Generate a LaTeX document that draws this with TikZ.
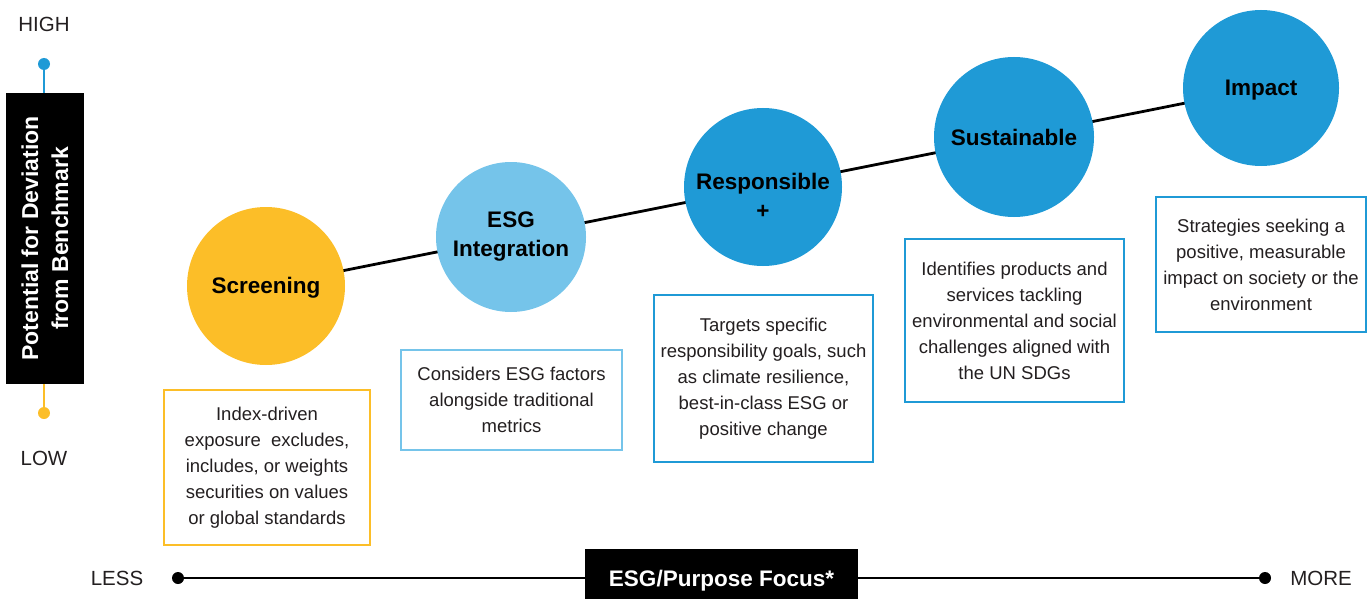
\documentclass[tikz,border=0pt]{standalone}
\usepackage{fontspec}
\setmainfont{Liberation Sans}
\usetikzlibrary{backgrounds}
\definecolor{esgyellow}{RGB}{252,190,40}
\definecolor{esglight}{RGB}{117,196,234}
\definecolor{esgblue}{RGB}{31,154,214}
\definecolor{inkgray}{RGB}{35,31,32}
\tikzset{
  stage/.style={circle, inner sep=0pt, align=center, text=black,
    font=\fontsize{22.5}{29}\selectfont\bfseries},
  desc/.style={draw, line width=1.6pt, fill=white, align=center, inner sep=0pt,
    text=inkgray, font=\fontsize{18.5}{26}\selectfont},
  axtext/.style={text=inkgray, font=\fontsize{20.5}{24}\selectfont},
  axdot/.style={circle, inner sep=0pt, minimum size=12pt},
  blackbox/.style={fill=black, text=white, inner sep=0pt, align=center,
    font=\fontsize{23}{30}\selectfont\bfseries}
}
\begin{document}
\begin{tikzpicture}[x=1pt,y=-1pt]
\useasboundingbox (0,0) rectangle (1370,599);
% stages
\node[stage, fill=esgyellow, minimum size=158pt] (scr) at (266,286) {};
\node[stage] (scrtxt) at (266,288) {Screening};
\node[stage, fill=esglight, minimum size=150pt] (esg) at (511,237) {ESG\\Integration};
\node[stage, fill=esgblue, minimum size=158pt] (resp) at (763,187) {};
\node[stage] (resptxt) at (763,196) {Responsible\\+};
\node[stage, fill=esgblue, minimum size=160pt] (sust) at (1014,137) {Sustainable};
\node[stage, fill=esgblue, minimum size=156pt] (imp) at (1261,88) {};
\node[stage] (imptxt) at (1261,90) {Impact};
\begin{scope}[on background layer]
  \draw[line width=2.8pt] (scr.center) -- (imp.center);
\end{scope}
% descriptions
\node[desc, draw=esgyellow, minimum width=206pt, minimum height=155pt] (scrd) at (267,467.5)
  {Index-driven\\exposure\ \ excludes,\\includes, or weights\\securities on values\\or global standards};
\node[desc, draw=esglight, minimum width=221pt, minimum height=100pt] (esgd) at (511.5,400)
  {Considers ESG factors\\alongside traditional\\metrics};
\node[desc, draw=esgblue, minimum width=219pt, minimum height=167pt] (respd) at (763.5,378.5)
  {Targets specific\\responsibility goals, such\\as climate resilience,\\best-in-class ESG or\\positive change};
\node[desc, draw=esgblue, minimum width=219pt, minimum height=163pt] (sustd) at (1014.5,320.5)
  {Identifies products and\\services tackling\\environmental and social\\challenges aligned with\\the UN SDGs};
\node[desc, draw=esgblue, minimum width=210pt, minimum height=135pt] (impd) at (1261,264.5)
  {Strategies seeking a\\positive, measurable\\impact on society or the\\environment};
% vertical axis
\node[axtext] (high) at (44,24) {HIGH};
\node[axtext] (low) at (44,458) {LOW};
\node[blackbox, rotate=90, minimum width=291pt, minimum height=78pt] (vbox) at (45,238.5)
  {Potential for Deviation\\from Benchmark};
\node[axdot, fill=esgblue] (hdot) at (44,64) {};
\node[axdot, fill=esgyellow] (ldotv) at (44,413) {};
\draw[esgblue, line width=2.8pt] (hdot.center) -- (hdot.center |- vbox.east);
\draw[esgyellow, line width=2.8pt] (ldotv.center) -- (ldotv.center |- vbox.west);
% horizontal axis
\node[axtext] (less) at (117,578) {LESS};
\node[axtext] (more) at (1321,578) {MORE};
\node[axdot, fill=black] (ldot) at (178,578) {};
\node[axdot, fill=black] (rdot) at (1265,578) {};
\draw[line width=2.8pt] (ldot.center) -- (rdot.center);
\node[blackbox, minimum width=273pt, minimum height=50pt, text height=28pt, text depth=4pt,
  font=\fontsize{22.5}{26}\selectfont\bfseries] (hbox) at (721.5,574)
  {ESG/Purpose Focus*};
\end{tikzpicture}
\end{document}
